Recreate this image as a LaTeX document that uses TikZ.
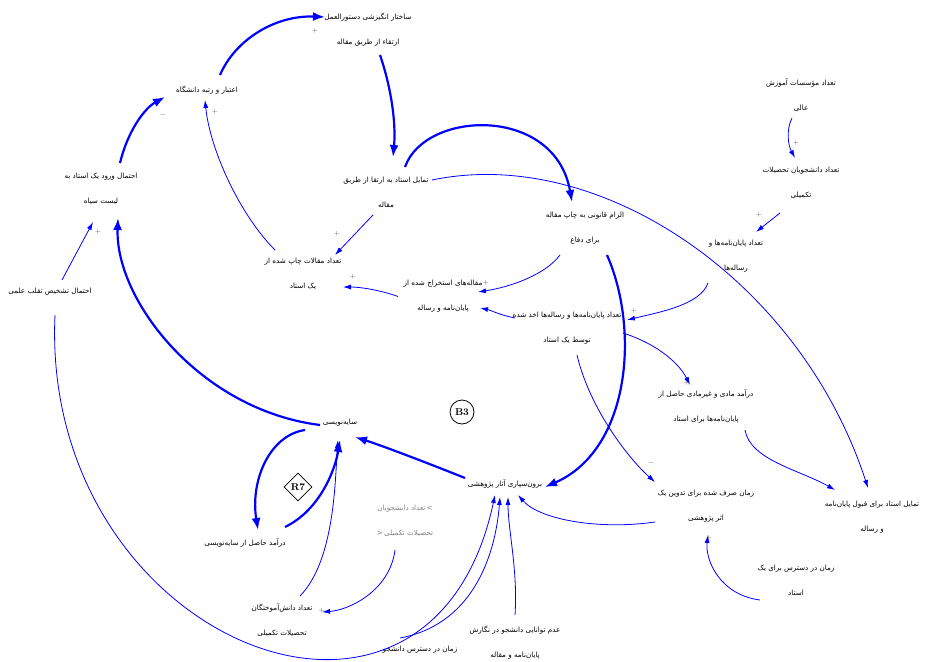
\documentclass[tikz,border=0pt]{standalone}
\usepackage{fontspec}
\TeXXeTstate=1
\newfontfamily\fa[Script=Arabic]{DejaVu Sans}
\usetikzlibrary{arrows.meta,shapes.geometric}
\newcommand{\Rtx}[1]{\beginR #1\endR}
\definecolor{cldblue}{RGB}{0,0,255}
\definecolor{polgray}{RGB}{90,90,90}
\definecolor{shadowgray}{RGB}{128,128,128}
\tikzset{
  var/.style={font=\fa\fontsize{7.2}{25}\selectfont, align=center, inner sep=1pt, text=black},
  shadowvar/.style={var, text=shadowgray},
  thickarr/.style={draw=cldblue, line width=2.2pt, -{Latex[length=12pt,width=9pt]}},
  thinarr/.style={draw=cldblue, line width=0.8pt, -{Latex[length=8pt,width=5pt]}},
  pol/.style={font=\fontsize{7}{8}\selectfont, text=polgray, inner sep=0pt},
  loopB/.style={draw=black, circle, line width=0.8pt, minimum size=24pt, inner sep=0pt, font=\bfseries\fontsize{10}{12}\selectfont},
  loopR/.style={draw=black, diamond, line width=0.8pt, minimum size=28pt, inner sep=0pt, font=\bfseries\fontsize{10}{12}\selectfont}
}
\begin{document}
\begin{tikzpicture}[x=1pt,y=-1pt]
\useasboundingbox (0,0) rectangle (928,661);
% variables
\node[var] (v1) at (368,29.5) {\Rtx{ساختار انگیزشی دستورالعمل}\\\Rtx{ارتقاء از طریق مقاله}};
\node[var] (v2) at (207,90) {\Rtx{اعتبار و رتبه دانشگاه}};
\node[var] (v3) at (101,188.5) {\Rtx{احتمال ورود یک استاد به}\\\Rtx{لیست سیاه}};
\node[var] (v4) at (50,292) {\Rtx{احتمال تشخیص تقلب علمی}};
\node[var] (v5) at (303,274) {\Rtx{تعداد مقالات چاپ شده از}\\\Rtx{یک استاد}};
\node[var] (v6) at (386,192.5) {\Rtx{تمایل استاد به ارتقا از طریق}\\\Rtx{مقاله}};
\node[var] (v7) at (443,296.5) {\Rtx{مقاله‌های استخراج شده از}\\\Rtx{پایان‌نامه و رساله}};
\node[var] (v8) at (585,228.5) {\Rtx{الزام قانونی به چاپ مقاله}\\\Rtx{برای دفاع}};
\node[var] (v9) at (801,95) {\Rtx{تعداد مؤسسات آموزش}\\\Rtx{عالی}};
\node[var] (v10) at (801,183) {\Rtx{تعداد دانشجویان تحصیلات}\\\Rtx{تکمیلی}};
\node[var] (v11) at (736,256.5) {\Rtx{تعداد پایان‌نامه‌ها و}\\\Rtx{رساله‌ها}};
\node[var] (v12) at (567,328.5) {\Rtx{تعداد پایان‌نامه‌ها و رساله‌ها اخذ شده}\\\Rtx{توسط یک استاد}};
\node[var] (v13) at (706,406.5) {\Rtx{درآمد مادی و غیرمادی حاصل از}\\\Rtx{پایان‌نامه‌ها برای استاد}};
\node[var] (v14) at (872,517.5) {\Rtx{تمایل استاد برای قبول پایان‌نامه}\\\Rtx{و رساله}};
\node[var] (v15) at (706,506.5) {\Rtx{زمان صرف شده برای تدوین یک}\\\Rtx{اثر پژوهشی}};
\node[var] (v16) at (796,580.5) {\Rtx{زمان در دسترس برای یک}\\\Rtx{استاد}};
\node[var] (v17) at (505,484) {\Rtx{برون‌سپاری آثار پژوهشی}};
\node[var] (v18) at (340,423) {\Rtx{سایه‌نویسی}};
\node[var] (v19) at (245,543) {\Rtx{درآمد حاصل از سایه‌نویسی}};
\node[shadowvar] (v20) at (405,521) {\Rtx{تعداد دانشجویان}\,>\\<\,\Rtx{تحصیلات تکمیلی}};
\node[var] (v21) at (282,620.5) {\Rtx{تعداد دانش‌آموختگان}\\\Rtx{تحصیلات تکمیلی}};
\node[var] (v22) at (420,650) {\Rtx{زمان در دسترس دانشجو}};
\node[var] (v23) at (515,642.5) {\Rtx{عدم توانایی دانشجو در نگارش}\\\Rtx{پایان‌نامه و مقاله}};
% loop markers
\node[loopB] (b3) at (462,412) {B3};
\node[loopR] (r7) at (298,487) {R7};
% thick links
\draw[thickarr] ([shift={(19,-25.5)}]v3.center) .. controls (128,130) and (145,108) .. ([shift={(-42,7)}]v2.center);
\draw[thickarr] ([shift={(13,-15)}]v2.center) .. controls (235,40) and (275,15) .. ([shift={(-43,-12.5)}]v1.center);
\draw[thickarr] ([shift={(12,25.5)}]v1.center) .. controls (392,90) and (396,125) .. ([shift={(7,-35.5)}]v6.center);
\draw[thickarr] ([shift={(19,-25.5)}]v6.center) .. controls (425,110) and (555,105) .. ([shift={(-13,-26.5)}]v8.center);
\draw[thickarr] ([shift={(22,26.5)}]v8.center) .. controls (640,330) and (630,450) .. ([shift={(40,3)}]v17.center);
\draw[thickarr] ([shift={(-40,-6)}]v17.center) .. controls (420,460) and (380,445) .. ([shift={(15,14)}]v18.center);
\draw[thickarr] ([shift={(-20,2)}]v18.center) .. controls (200,410) and (115,300) .. ([shift={(17,29.5)}]v3.center);
\draw[thickarr] ([shift={(-35,7)}]v18.center) .. controls (270,435) and (250,480) .. ([shift={(13,-13)}]v19.center);
\draw[thickarr] ([shift={(40,-16)}]v19.center) .. controls (320,510) and (335,470) .. ([shift={(0,17)}]v18.center);
% thin links
\draw[thinarr] ([shift={(12,-12)}]v4.center) -- ([shift={(-8,33.5)}]v3.center);
\draw[thinarr] ([shift={(-28,-24)}]v5.center) .. controls (240,215) and (210,150) .. ([shift={(-2,10)}]v2.center);
\draw[thinarr] ([shift={(-13,22.5)}]v6.center) -- ([shift={(32,-19)}]v5.center);
\draw[thinarr] ([shift={(-45,0)}]v7.center) .. controls (380,290) and (360,287) .. ([shift={(40,13)}]v5.center);
\draw[thinarr] ([shift={(-25,26.5)}]v8.center) .. controls (545,275) and (510,287) .. ([shift={(35,-4.5)}]v7.center);
\draw[thinarr] ([shift={(-52,-10.5)}]v12.center) .. controls (500,315) and (490,310) .. ([shift={(37,11.5)}]v7.center);
\draw[thinarr] ([shift={(-28,26.5)}]v11.center) .. controls (700,305) and (660,312) .. ([shift={(60,-8.5)}]v12.center);
\draw[thinarr] ([shift={(-21,30)}]v10.center) -- ([shift={(20,-24.5)}]v11.center);
\draw[thinarr] ([shift={(-9,23)}]v9.center) .. controls (786,130) and (788,145) .. ([shift={(-6,-25)}]v10.center);
\draw[thinarr] ([shift={(56,4.5)}]v12.center) .. controls (660,345) and (680,365) .. ([shift={(-16,-21.5)}]v13.center);
\draw[thinarr] ([shift={(39,23.5)}]v13.center) .. controls (750,460) and (800,470) .. ([shift={(-37,-27.5)}]v14.center);
\draw[thinarr] ([shift={(46,-12.5)}]v6.center) .. controls (600,145) and (800,280) .. ([shift={(-4,-29.5)}]v14.center);
\draw[thinarr] ([shift={(10,26.5)}]v12.center) .. controls (590,410) and (630,460) .. ([shift={(-51,-24.5)}]v15.center);
\draw[thinarr] ([shift={(-51,15.5)}]v15.center) .. controls (600,530) and (540,520) .. ([shift={(13,11)}]v17.center);
\draw[thinarr] ([shift={(-36,19.5)}]v16.center) .. controls (720,595) and (705,560) .. ([shift={(2,28.5)}]v15.center);
\draw[thinarr] ([shift={(-10,29)}]v20.center) .. controls (390,590) and (350,610) .. ([shift={(40,-8.5)}]v21.center);
\draw[thinarr] ([shift={(18,-24.5)}]v21.center) .. controls (335,560) and (335,480) .. ([shift={(-2,17)}]v18.center);
\draw[thinarr] ([shift={(5,23)}]v4.center) .. controls (40,640) and (430,800) .. ([shift={(-10,11)}]v17.center);
\draw[thinarr] ([shift={(-20,-12)}]v22.center) .. controls (470,625) and (495,560) .. ([shift={(-5,13)}]v17.center);
\draw[thinarr] ([shift={(0,-27.5)}]v23.center) .. controls (518,570) and (508,530) .. ([shift={(3,13)}]v17.center);
% polarities
\node[pol] (p1) at (163,115) {$-$};
\node[pol] (p2) at (215,112) {$+$};
\node[pol] (p3) at (315,31) {$+$};
\node[pol] (p4) at (337,234) {$+$};
\node[pol] (p5) at (353,277) {$+$};
\node[pol] (p6) at (486,283) {$+$};
\node[pol] (p7) at (634,311) {$+$};
\node[pol] (p8) at (759,215) {$+$};
\node[pol] (p9) at (796,143) {$+$};
\node[pol] (p10) at (687,383) {$+$};
\node[pol] (p11) at (651,463) {$-$};
\node[pol] (p12) at (709,538) {$+$};
\node[pol] (p13) at (322,611) {$+$};
\node[pol] (p14) at (98,232) {$+$};
\end{tikzpicture}
\end{document}
